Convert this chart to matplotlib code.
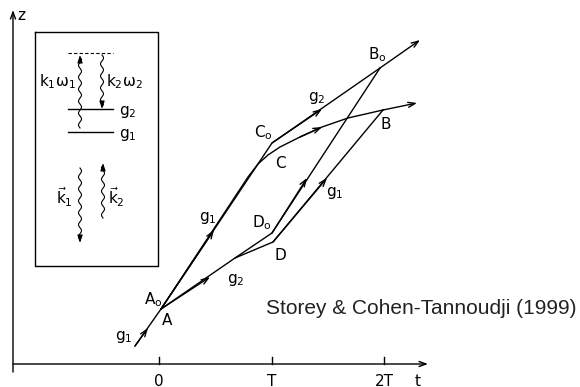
import numpy as np
import matplotlib
matplotlib.use("Agg")
import matplotlib.pyplot as plt

# diagram geometry (pixel coords, y downward)
z_axis = [(13, 372), (13, 10)]
t_axis = [(13, 364), (428, 364)]
tick_x = [159, 272, 384]
tick_labels = ["0", "T", "2T"]

path_in = [(135, 346), (161, 309)]
path_A_C0_B0 = [(161, 309), (272, 143), (380, 68), (420, 40)]
path_A_C_B = [(161, 309), (248, 177), (258, 164), (268, 155), (280, 147),
              (300, 137), (322, 127), (348, 118), (383, 110), (417, 103)]
path_A_D0_B0 = [(161, 309), (235, 258), (272, 233), (380, 68)]
path_D_B = [(235, 258), (273, 242), (383, 110)]

mid_arrows = [((135, 346), (148, 328)), ((161, 309), (214, 230)),
              ((161, 309), (210, 277)), ((272, 143), (322, 109)),
              ((300, 137), (322, 127)), ((272, 233), (307, 178)),
              ((273, 242), (327, 178))]

labels = [("g_1", 124, 337), ("A_o", 153, 300), ("A", 167, 320),
          ("g_2", 236, 280), ("g_1", 208, 218), ("C_o", 263, 133),
          ("C", 281, 163), ("D_o", 262, 223), ("D", 280, 255),
          ("g_2", 317, 98), ("B_o", 377, 55), ("B", 386, 124),
          ("g_1", 335, 193)]

box = (35, 32, 158, 266)
levels = [("g_2", 109), ("g_1", 132)]
virtual_level = 53
waves = [(80, 128, 55), (102, 55, 109), (80, 168, 243), (103, 218, 163)]


def P(pts):
    a = np.array(pts, dtype=float)
    return a[:, 0], a[:, 1]


def wavy(ax, x, y0, y1):
    # small squiggle for a photon arrow
    sgn = 1 if y1 > y0 else -1
    y = np.linspace(y0, y1 - 4 * sgn, 200)
    xx = x + 1.5 * np.sin((y - y0) / 1.9)
    ax.plot(xx, y, color="k", lw=0.8)
    ax.annotate("", xy=(x, y1), xytext=(x, y1 - 5 * sgn),
                arrowprops=dict(arrowstyle="-|>,head_length=0.45,head_width=0.15",
                                color="k", lw=0.8, shrinkA=0, shrinkB=0))


fig = plt.figure(figsize=(5.8, 3.87), dpi=100)
ax = fig.add_axes([0, 0, 1, 1])
ax.set_xlim(0, 580)
ax.set_ylim(387, 0)
ax.axis("off")

arrow_kw = dict(arrowstyle="->,head_length=0.5,head_width=0.18", color="k",
                lw=1.0, shrinkA=0, shrinkB=0)

# axes
ax.annotate("", xy=z_axis[1], xytext=z_axis[0], arrowprops=arrow_kw)
ax.annotate("", xy=t_axis[1], xytext=t_axis[0], arrowprops=arrow_kw)
for tx, tl in zip(tick_x, tick_labels):
    ax.plot([tx, tx], [357, 364], color="k", lw=1.0)
    ax.text(tx, 381, tl, ha="center", va="center", fontsize=11)
ax.text(21, 16, "z", ha="center", va="center", fontsize=11)
ax.text(418, 381, "t", ha="center", va="center", fontsize=11)

# trajectories
for path in [path_in, path_A_C0_B0[:-1], path_A_C_B[:-1], path_A_D0_B0, path_D_B]:
    ax.plot(*P(path), color="k", lw=1.0)
ax.annotate("", xy=path_A_C0_B0[-1], xytext=path_A_C0_B0[-2], arrowprops=arrow_kw)
ax.annotate("", xy=path_A_C_B[-1], xytext=path_A_C_B[-2], arrowprops=arrow_kw)
for start, tip in mid_arrows:
    ax.annotate("", xy=tip, xytext=start, arrowprops=arrow_kw)

for lab, lx, ly in labels:
    ax.text(lx, ly, r"$\mathregular{%s}$" % lab, ha="center", va="center",
            fontsize=11)

# inset level scheme
bx0, by0, bx1, by1 = box
ax.plot([bx0, bx1, bx1, bx0, bx0], [by0, by0, by1, by1, by0], color="k", lw=1.0)
ax.plot([68, 113], [virtual_level, virtual_level], color="k", lw=0.8, ls=(0, (3, 2)))
for lab, ly in levels:
    ax.plot([68, 113], [ly, ly], color="k", lw=1.0)
    ax.text(119, ly + 3, r"$\mathregular{%s}$" % lab, ha="left", va="center",
            fontsize=11)
for wx, wy0, wy1 in waves:
    wavy(ax, wx, wy0, wy1)
ax.text(76, 82, r"$\mathregular{k_1\omega_1}$", ha="right", va="center", fontsize=11)
ax.text(106, 82, r"$\mathregular{k_2\omega_2}$", ha="left", va="center", fontsize=11)
ax.text(64, 197, r"$\vec{\mathregular{k}}_\mathregular{1}$", ha="center", va="center",
        fontsize=11)
ax.text(116, 197, r"$\vec{\mathregular{k}}_\mathregular{2}$", ha="center", va="center",
        fontsize=11)

ax.text(577, 309, "Storey & Cohen-Tannoudji (1999)", ha="right", va="center",
        fontsize=15, family="Liberation Sans", color="#222222")

fig.savefig("out.png", dpi=100)
